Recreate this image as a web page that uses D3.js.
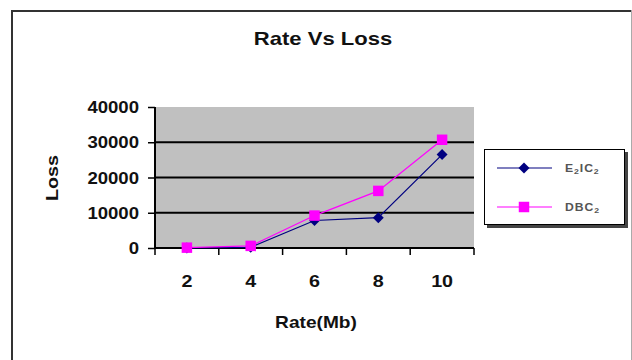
<!DOCTYPE html>
<html>
<head>
<meta charset="utf-8">
<script src="https://cdn.jsdelivr.net/npm/d3@7"></script>
<style>
  html, body { margin: 0; padding: 0; background: #fff; }
  svg { display: block; font-family: "Liberation Sans", Arial, sans-serif; }
</style>
</head>
<body>
<svg id="chart" width="632" height="360"></svg>
<script>
// Data
const rates = ["2", "4", "6", "8", "10"];
const e2ic2Loss = [0, 200, 7800, 8600, 26500];
const dbc2Loss = [100, 600, 9200, 16200, 30700];
const yTicks = [0, 10000, 20000, 30000, 40000];
const seriesLabels = [
  [["E", false], ["2", true], ["IC", false], ["2", true]],
  [["DBC", false], ["2", true]]
];

const svg = d3.select("#chart");
const W = 632, H = 360;
const plot = { left: 155, right: 474, top: 107, bottom: 248 };
const stretch = 1.16;

// Outer chart frame
svg.append("rect").attr("x", 0).attr("y", 0).attr("width", W).attr("height", H).attr("fill", "#fff");
svg.append("line").attr("x1", 12).attr("y1", 11).attr("x2", 632).attr("y2", 11)
  .attr("stroke", "#333").attr("stroke-width", 2);
svg.append("line").attr("x1", 12).attr("y1", 10).attr("x2", 12).attr("y2", 360)
  .attr("stroke", "#333").attr("stroke-width", 2);
svg.append("line").attr("x1", 631.5).attr("y1", 10).attr("x2", 631.5).attr("y2", 360)
  .attr("stroke", "#aaa").attr("stroke-width", 1);

// Scales
const x = d3.scaleBand().domain(rates).range([plot.left, plot.right]);
const y = d3.scaleLinear().domain([0, 40000]).range([plot.bottom, plot.top]);

// Plot area
svg.append("rect")
  .attr("x", plot.left).attr("y", plot.top)
  .attr("width", plot.right - plot.left).attr("height", plot.bottom - plot.top)
  .attr("fill", "#c0c0c0");

// Gridlines
svg.append("g").selectAll("line")
  .data(yTicks.filter(v => v > 0 && v < 40000))
  .join("line")
  .attr("x1", plot.left).attr("x2", plot.right)
  .attr("y1", d => y(d)).attr("y2", d => y(d))
  .attr("stroke", "#000").attr("stroke-width", 2);

// Horizontally stretched text helper
function stretchedText(g, tx, ty, str, size, anchor, rotate) {
  return g.append("text")
    .attr("transform", `translate(${tx},${ty})` + (rotate ? ` rotate(${rotate})` : "") + ` scale(${stretch},1)`)
    .attr("text-anchor", anchor)
    .attr("font-size", size)
    .attr("font-weight", "bold")
    .attr("fill", "#111")
    .text(str);
}

// Y axis
const yAxis = svg.append("g").attr("transform", `translate(${plot.left},0)`)
  .call(d3.axisLeft(y).tickValues(yTicks).tickSize(7).tickFormat(""));
yAxis.select(".domain").attr("stroke", "#000").attr("stroke-width", 2).attr("d", `M0,${plot.top}V${plot.bottom}`);
yAxis.selectAll(".tick line").attr("stroke", "#000").attr("stroke-width", 1.5);
yTicks.forEach(v => stretchedText(svg, 139, y(v) + 6, d3.format("d")(v), 16, "end"));

// X axis
const xTickPos = rates.map(r => x(r)).concat([plot.right]);
const xAxis = svg.append("g").attr("transform", `translate(0,${plot.bottom})`);
xAxis.append("line").attr("x1", plot.left).attr("x2", plot.right).attr("y1", 0).attr("y2", 0)
  .attr("stroke", "#000").attr("stroke-width", 2);
xAxis.selectAll("line.tk").data(xTickPos).join("line").attr("class", "tk")
  .attr("x1", d => d).attr("x2", d => d).attr("y1", 0).attr("y2", 7)
  .attr("stroke", "#000").attr("stroke-width", 1.5);
rates.forEach(r => stretchedText(svg, x(r) + x.bandwidth() / 2, 287, r, 17, "middle"));

// Titles
stretchedText(svg, 323, 45, "Rate Vs Loss", 19, "middle");
stretchedText(svg, 316, 328, "Rate(Mb)", 16.5, "middle");
stretchedText(svg, 58, 178, "Loss", 17, "middle", -90);

// Marker shapes: an even-sided diamond and a square
const diamond = d3.symbol().type({
  draw(ctx, size) {
    const r = Math.sqrt(size / 2);
    ctx.moveTo(0, -r); ctx.lineTo(r, 0); ctx.lineTo(0, r); ctx.lineTo(-r, 0); ctx.closePath();
  }
}).size(60);
const square = d3.symbol().type(d3.symbolSquare).size(110);

const cx = (d, i) => x(rates[i]) + x.bandwidth() / 2;
const line = d3.line().x((d, i) => cx(d, i)).y(d => y(d));

const series = [
  { values: e2ic2Loss, color: "#000080", marker: diamond },
  { values: dbc2Loss, color: "#ff00ff", marker: square }
];

series.forEach(s => {
  svg.append("path").datum(s.values).attr("d", line)
    .attr("fill", "none").attr("stroke", s.color).attr("stroke-width", 1.2);
});
series.forEach(s => {
  svg.append("g").selectAll("path").data(s.values).join("path")
    .attr("transform", (d, i) => `translate(${cx(d, i)},${y(d)})`)
    .attr("d", s.marker)
    .attr("fill", s.color);
});

// Legend
const legend = svg.append("g");
legend.append("rect").attr("x", 487).attr("y", 152).attr("width", 141).attr("height", 76).attr("fill", "#444");
legend.append("rect").attr("x", 484.5).attr("y", 149.5).attr("width", 140).attr("height", 75)
  .attr("fill", "#fff").attr("stroke", "#000").attr("stroke-width", 1);
const legendY = [168, 207];
series.forEach((s, i) => {
  const ly = legendY[i];
  legend.append("line").attr("x1", 497).attr("x2", 552).attr("y1", ly).attr("y2", ly)
    .attr("stroke", s.color).attr("stroke-width", 1.2);
  legend.append("path").attr("transform", `translate(524,${ly})`)
    .attr("d", s.marker)
    .attr("fill", s.color);
  const t = legend.append("text")
    .attr("transform", `translate(565,${ly + 4}) scale(${stretch},1)`)
    .attr("font-size", 10.5).attr("font-weight", "bold").attr("fill", "#555")
    .attr("letter-spacing", 0.8);
  seriesLabels[i].forEach(([str, sub], k) => {
    t.append("tspan").attr("font-size", sub ? 7.5 : 10.5)
      .attr("dy", sub ? 2 : (k > 0 ? -2 : 0)).text(str);
  });
});
</script>
</body>
</html>
